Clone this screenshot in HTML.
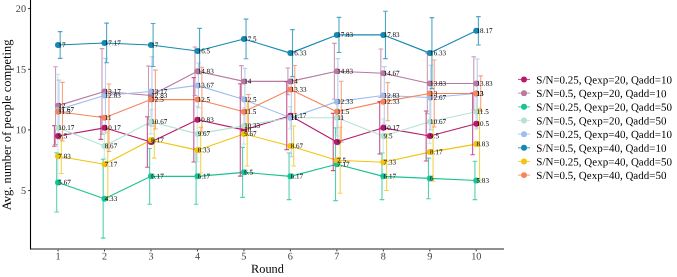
<!DOCTYPE html>
<html><head><meta charset="utf-8"><style>
html,body{margin:0;padding:0;background:#fff;width:677px;height:277px;overflow:hidden;}
body{position:relative;font-family:"Liberation Serif",serif;}
</style></head><body>
<svg width="677" height="277" viewBox="0 0 677 277" style="position:absolute;left:0;top:0;will-change:transform">
<polyline points="58.03,135.97 104.50,127.84 150.97,142.03 197.44,119.83 243.91,129.90 290.38,115.71 336.85,142.03 383.32,127.84 429.79,135.97 476.26,123.84" fill="none" stroke="#B81B6C" stroke-width="1.1" stroke-linejoin="round"/>
<polyline points="58.03,105.64 104.50,91.45 150.97,95.57 197.44,71.31 243.91,81.38 290.38,81.38 336.85,71.31 383.32,73.25 429.79,83.44 476.26,83.44" fill="none" stroke="#B8799F" stroke-width="1.1" stroke-linejoin="round"/>
<polyline points="58.03,182.42 104.50,198.68 150.97,176.36 197.44,176.36 243.91,172.36 290.38,176.36 336.85,164.23 383.32,176.36 429.79,178.42 476.26,180.48" fill="none" stroke="#19C394" stroke-width="1.1" stroke-linejoin="round"/>
<polyline points="58.03,127.84 104.50,146.03 150.97,121.77 197.44,133.90 243.91,125.90 290.38,117.77 336.85,117.77 383.32,135.97 429.79,121.77 476.26,111.70" fill="none" stroke="#B5E3D3" stroke-width="1.1" stroke-linejoin="round"/>
<polyline points="58.03,109.64 104.50,95.57 150.97,91.45 197.44,85.38 243.91,99.58 290.38,117.77 336.85,101.64 383.32,95.57 429.79,97.51 476.26,93.51" fill="none" stroke="#A0BDEE" stroke-width="1.1" stroke-linejoin="round"/>
<polyline points="58.03,44.99 104.50,42.93 150.97,44.99 197.44,51.06 243.91,38.93 290.38,53.12 336.85,34.92 383.32,34.92 429.79,53.12 476.26,30.80" fill="none" stroke="#1489B3" stroke-width="1.1" stroke-linejoin="round"/>
<polyline points="58.03,156.22 104.50,164.23 150.97,139.97 197.44,150.16 243.91,133.90 290.38,146.03 336.85,160.22 383.32,162.29 429.79,152.10 476.26,144.09" fill="none" stroke="#F2C40F" stroke-width="1.1" stroke-linejoin="round"/>
<polyline points="58.03,111.70 104.50,117.77 150.97,99.58 197.44,99.58 243.91,111.70 290.38,89.51 336.85,111.70 383.32,101.64 429.79,93.51 476.26,93.51" fill="none" stroke="#F7855A" stroke-width="1.1" stroke-linejoin="round"/>
<path d="M52.11,125.65H56.71M54.41,125.65V146.28M52.11,146.28H56.71" stroke="#B81B6C" stroke-opacity="0.75" stroke-width="1.1" fill="none"/>
<path d="M98.58,116.31H103.18M100.88,116.31V139.36M98.58,139.36H103.18" stroke="#B81B6C" stroke-opacity="0.75" stroke-width="1.1" fill="none"/>
<path d="M145.05,116.80H149.65M147.35,116.80V167.26M145.05,167.26H149.65" stroke="#B81B6C" stroke-opacity="0.75" stroke-width="1.1" fill="none"/>
<path d="M191.52,77.62H196.12M193.82,77.62V162.04M191.52,162.04H196.12" stroke="#B81B6C" stroke-opacity="0.75" stroke-width="1.1" fill="none"/>
<path d="M237.99,83.68H242.59M240.29,83.68V176.12M237.99,176.12H242.59" stroke="#B81B6C" stroke-opacity="0.75" stroke-width="1.1" fill="none"/>
<path d="M284.46,81.74H289.06M286.76,81.74V149.67M284.46,149.67H289.06" stroke="#B81B6C" stroke-opacity="0.75" stroke-width="1.1" fill="none"/>
<path d="M330.93,113.40H335.53M333.23,113.40V170.66M330.93,170.66H335.53" stroke="#B81B6C" stroke-opacity="0.75" stroke-width="1.1" fill="none"/>
<path d="M377.40,101.64H382.00M379.70,101.64V154.04M377.40,154.04H382.00" stroke="#B81B6C" stroke-opacity="0.75" stroke-width="1.1" fill="none"/>
<path d="M423.87,110.98H428.47M426.17,110.98V160.95M423.87,160.95H428.47" stroke="#B81B6C" stroke-opacity="0.75" stroke-width="1.1" fill="none"/>
<path d="M470.34,92.90H474.94M472.64,92.90V154.77M470.34,154.77H474.94" stroke="#B81B6C" stroke-opacity="0.75" stroke-width="1.1" fill="none"/>
<path d="M53.26,66.70H57.86M55.56,66.70V144.58M53.26,144.58H57.86" stroke="#B8799F" stroke-opacity="0.75" stroke-width="1.1" fill="none"/>
<path d="M99.73,48.63H104.33M102.03,48.63V134.27M99.73,134.27H104.33" stroke="#B8799F" stroke-opacity="0.75" stroke-width="1.1" fill="none"/>
<path d="M146.20,66.10H150.80M148.50,66.10V125.05M146.20,125.05H150.80" stroke="#B8799F" stroke-opacity="0.75" stroke-width="1.1" fill="none"/>
<path d="M192.67,47.05H197.27M194.97,47.05V95.57M192.67,95.57H197.27" stroke="#B8799F" stroke-opacity="0.75" stroke-width="1.1" fill="none"/>
<path d="M239.14,65.61H243.74M241.44,65.61V97.15M239.14,97.15H243.74" stroke="#B8799F" stroke-opacity="0.75" stroke-width="1.1" fill="none"/>
<path d="M285.61,68.04H290.21M287.91,68.04V94.72M285.61,94.72H290.21" stroke="#B8799F" stroke-opacity="0.75" stroke-width="1.1" fill="none"/>
<path d="M332.08,43.41H336.68M334.38,43.41V99.21M332.08,99.21H336.68" stroke="#B8799F" stroke-opacity="0.75" stroke-width="1.1" fill="none"/>
<path d="M378.55,48.99H383.15M380.85,48.99V97.51M378.55,97.51H383.15" stroke="#B8799F" stroke-opacity="0.75" stroke-width="1.1" fill="none"/>
<path d="M425.02,53.12H429.62M427.32,53.12V113.77M425.02,113.77H429.62" stroke="#B8799F" stroke-opacity="0.75" stroke-width="1.1" fill="none"/>
<path d="M471.49,56.76H476.09M473.79,56.76V110.13M471.49,110.13H476.09" stroke="#B8799F" stroke-opacity="0.75" stroke-width="1.1" fill="none"/>
<path d="M54.41,152.83H59.01M56.71,152.83V212.02M54.41,212.02H59.01" stroke="#19C394" stroke-opacity="0.75" stroke-width="1.1" fill="none"/>
<path d="M100.88,159.25H105.48M103.18,159.25V238.10M100.88,238.10H105.48" stroke="#19C394" stroke-opacity="0.75" stroke-width="1.1" fill="none"/>
<path d="M147.35,148.46H151.95M149.65,148.46V204.26M147.35,204.26H151.95" stroke="#19C394" stroke-opacity="0.75" stroke-width="1.1" fill="none"/>
<path d="M193.82,148.46H198.42M196.12,148.46V204.26M193.82,204.26H198.42" stroke="#19C394" stroke-opacity="0.75" stroke-width="1.1" fill="none"/>
<path d="M240.29,147.37H244.89M242.59,147.37V197.34M240.29,197.34H244.89" stroke="#19C394" stroke-opacity="0.75" stroke-width="1.1" fill="none"/>
<path d="M286.76,153.07H291.36M289.06,153.07V199.65M286.76,199.65H291.36" stroke="#19C394" stroke-opacity="0.75" stroke-width="1.1" fill="none"/>
<path d="M333.23,127.84H337.83M335.53,127.84V200.62M333.23,200.62H337.83" stroke="#19C394" stroke-opacity="0.75" stroke-width="1.1" fill="none"/>
<path d="M379.70,153.07H384.30M382.00,153.07V199.65M379.70,199.65H384.30" stroke="#19C394" stroke-opacity="0.75" stroke-width="1.1" fill="none"/>
<path d="M426.17,158.16H430.77M428.47,158.16V198.68M426.17,198.68H430.77" stroke="#19C394" stroke-opacity="0.75" stroke-width="1.1" fill="none"/>
<path d="M472.64,161.32H477.24M474.94,161.32V199.65M472.64,199.65H477.24" stroke="#19C394" stroke-opacity="0.75" stroke-width="1.1" fill="none"/>
<path d="M55.56,74.34H60.16M57.86,74.34V181.33M55.56,181.33H60.16" stroke="#B5E3D3" stroke-opacity="0.75" stroke-width="1.1" fill="none"/>
<path d="M102.03,133.90H106.63M104.33,133.90V158.16M102.03,158.16H106.63" stroke="#B5E3D3" stroke-opacity="0.75" stroke-width="1.1" fill="none"/>
<path d="M148.50,109.64H153.10M150.80,109.64V133.90M148.50,133.90H153.10" stroke="#B5E3D3" stroke-opacity="0.75" stroke-width="1.1" fill="none"/>
<path d="M194.97,106.00H199.57M197.27,106.00V161.80M194.97,161.80H199.57" stroke="#B5E3D3" stroke-opacity="0.75" stroke-width="1.1" fill="none"/>
<path d="M241.44,107.70H246.04M243.74,107.70V144.09M241.44,144.09H246.04" stroke="#B5E3D3" stroke-opacity="0.75" stroke-width="1.1" fill="none"/>
<path d="M287.91,106.61H292.51M290.21,106.61V128.93M287.91,128.93H292.51" stroke="#B5E3D3" stroke-opacity="0.75" stroke-width="1.1" fill="none"/>
<path d="M334.38,99.58H338.98M336.68,99.58V135.97M334.38,135.97H338.98" stroke="#B5E3D3" stroke-opacity="0.75" stroke-width="1.1" fill="none"/>
<path d="M380.85,118.98H385.45M383.15,118.98V152.95M380.85,152.95H385.45" stroke="#B5E3D3" stroke-opacity="0.75" stroke-width="1.1" fill="none"/>
<path d="M427.32,100.30H431.92M429.62,100.30V143.24M427.32,143.24H431.92" stroke="#B5E3D3" stroke-opacity="0.75" stroke-width="1.1" fill="none"/>
<path d="M473.79,94.12H478.39M476.09,94.12V129.29M473.79,129.29H478.39" stroke="#B5E3D3" stroke-opacity="0.75" stroke-width="1.1" fill="none"/>
<path d="M56.71,80.17H61.31M59.01,80.17V139.12M56.71,139.12H61.31" stroke="#A0BDEE" stroke-opacity="0.75" stroke-width="1.1" fill="none"/>
<path d="M103.18,58.33H107.78M105.48,58.33V132.81M103.18,132.81H107.78" stroke="#A0BDEE" stroke-opacity="0.75" stroke-width="1.1" fill="none"/>
<path d="M149.65,56.76H154.25M151.95,56.76V126.14M149.65,126.14H154.25" stroke="#A0BDEE" stroke-opacity="0.75" stroke-width="1.1" fill="none"/>
<path d="M196.12,62.94H200.72M198.42,62.94V107.82M196.12,107.82H200.72" stroke="#A0BDEE" stroke-opacity="0.75" stroke-width="1.1" fill="none"/>
<path d="M242.59,68.40H247.19M244.89,68.40V130.75M242.59,130.75H247.19" stroke="#A0BDEE" stroke-opacity="0.75" stroke-width="1.1" fill="none"/>
<path d="M289.06,78.95H293.66M291.36,78.95V156.59M289.06,156.59H293.66" stroke="#A0BDEE" stroke-opacity="0.75" stroke-width="1.1" fill="none"/>
<path d="M335.53,58.58H340.13M337.83,58.58V144.70M335.53,144.70H340.13" stroke="#A0BDEE" stroke-opacity="0.75" stroke-width="1.1" fill="none"/>
<path d="M382.00,66.58H386.60M384.30,66.58V124.56M382.00,124.56H386.60" stroke="#A0BDEE" stroke-opacity="0.75" stroke-width="1.1" fill="none"/>
<path d="M428.47,65.25H433.07M430.77,65.25V129.78M428.47,129.78H433.07" stroke="#A0BDEE" stroke-opacity="0.75" stroke-width="1.1" fill="none"/>
<path d="M474.94,59.06H479.54M477.24,59.06V127.96M474.94,127.96H479.54" stroke="#A0BDEE" stroke-opacity="0.75" stroke-width="1.1" fill="none"/>
<path d="M57.86,31.65H62.46M60.16,31.65V58.33M57.86,58.33H62.46" stroke="#1489B3" stroke-opacity="0.75" stroke-width="1.1" fill="none"/>
<path d="M104.33,23.16H108.93M106.63,23.16V62.70M104.33,62.70H108.93" stroke="#1489B3" stroke-opacity="0.75" stroke-width="1.1" fill="none"/>
<path d="M150.80,23.52H155.40M153.10,23.52V66.46M150.80,66.46H155.40" stroke="#1489B3" stroke-opacity="0.75" stroke-width="1.1" fill="none"/>
<path d="M197.27,28.37H201.87M199.57,28.37V73.74M197.27,73.74H201.87" stroke="#1489B3" stroke-opacity="0.75" stroke-width="1.1" fill="none"/>
<path d="M243.74,19.15H248.34M246.04,19.15V58.70M243.74,58.70H248.34" stroke="#1489B3" stroke-opacity="0.75" stroke-width="1.1" fill="none"/>
<path d="M290.21,29.58H294.81M292.51,29.58V76.65M290.21,76.65H294.81" stroke="#1489B3" stroke-opacity="0.75" stroke-width="1.1" fill="none"/>
<path d="M336.68,17.33H341.28M338.98,17.33V52.51M336.68,52.51H341.28" stroke="#1489B3" stroke-opacity="0.75" stroke-width="1.1" fill="none"/>
<path d="M383.15,11.27H387.75M385.45,11.27V58.58M383.15,58.58H387.75" stroke="#1489B3" stroke-opacity="0.75" stroke-width="1.1" fill="none"/>
<path d="M429.62,17.58H434.22M431.92,17.58V88.66M429.62,88.66H434.22" stroke="#1489B3" stroke-opacity="0.75" stroke-width="1.1" fill="none"/>
<path d="M476.09,16.61H480.69M478.39,16.61V44.99M476.09,44.99H480.69" stroke="#1489B3" stroke-opacity="0.75" stroke-width="1.1" fill="none"/>
<path d="M59.01,138.88H63.61M61.31,138.88V173.57M59.01,173.57H63.61" stroke="#F2C40F" stroke-opacity="0.75" stroke-width="1.1" fill="none"/>
<path d="M105.48,130.75H110.08M107.78,130.75V197.71M105.48,197.71H110.08" stroke="#F2C40F" stroke-opacity="0.75" stroke-width="1.1" fill="none"/>
<path d="M151.95,121.77H156.55M154.25,121.77V158.16M151.95,158.16H156.55" stroke="#F2C40F" stroke-opacity="0.75" stroke-width="1.1" fill="none"/>
<path d="M198.42,127.35H203.02M200.72,127.35V172.96M198.42,172.96H203.02" stroke="#F2C40F" stroke-opacity="0.75" stroke-width="1.1" fill="none"/>
<path d="M244.89,101.76H249.49M247.19,101.76V166.05M244.89,166.05H249.49" stroke="#F2C40F" stroke-opacity="0.75" stroke-width="1.1" fill="none"/>
<path d="M291.36,126.02H295.96M293.66,126.02V166.05M291.36,166.05H295.96" stroke="#F2C40F" stroke-opacity="0.75" stroke-width="1.1" fill="none"/>
<path d="M337.83,127.23H342.43M340.13,127.23V193.22M337.83,193.22H342.43" stroke="#F2C40F" stroke-opacity="0.75" stroke-width="1.1" fill="none"/>
<path d="M384.30,134.15H388.90M386.60,134.15V190.43M384.30,190.43H388.90" stroke="#F2C40F" stroke-opacity="0.75" stroke-width="1.1" fill="none"/>
<path d="M430.77,123.11H435.37M433.07,123.11V181.09M430.77,181.09H435.37" stroke="#F2C40F" stroke-opacity="0.75" stroke-width="1.1" fill="none"/>
<path d="M477.24,108.31H481.84M479.54,108.31V179.88M477.24,179.88H481.84" stroke="#F2C40F" stroke-opacity="0.75" stroke-width="1.1" fill="none"/>
<path d="M60.16,82.35H64.76M62.46,82.35V141.06M60.16,141.06H64.76" stroke="#F7855A" stroke-opacity="0.75" stroke-width="1.1" fill="none"/>
<path d="M106.63,84.05H111.23M108.93,84.05V151.49M106.63,151.49H111.23" stroke="#F7855A" stroke-opacity="0.75" stroke-width="1.1" fill="none"/>
<path d="M153.10,70.10H157.70M155.40,70.10V129.05M153.10,129.05H157.70" stroke="#F7855A" stroke-opacity="0.75" stroke-width="1.1" fill="none"/>
<path d="M199.57,67.31H204.17M201.87,67.31V131.84M199.57,131.84H204.17" stroke="#F7855A" stroke-opacity="0.75" stroke-width="1.1" fill="none"/>
<path d="M246.04,94.48H250.64M248.34,94.48V128.93M246.04,128.93H250.64" stroke="#F7855A" stroke-opacity="0.75" stroke-width="1.1" fill="none"/>
<path d="M292.51,65.49H297.11M294.81,65.49V113.52M292.51,113.52H297.11" stroke="#F7855A" stroke-opacity="0.75" stroke-width="1.1" fill="none"/>
<path d="M338.98,81.26H343.58M341.28,81.26V142.15M338.98,142.15H343.58" stroke="#F7855A" stroke-opacity="0.75" stroke-width="1.1" fill="none"/>
<path d="M385.45,82.59H390.05M387.75,82.59V120.68M385.45,120.68H390.05" stroke="#F7855A" stroke-opacity="0.75" stroke-width="1.1" fill="none"/>
<path d="M431.92,60.03H436.52M434.22,60.03V126.99M431.92,126.99H436.52" stroke="#F7855A" stroke-opacity="0.75" stroke-width="1.1" fill="none"/>
<path d="M478.39,75.92H482.99M480.69,75.92V111.10M478.39,111.10H482.99" stroke="#F7855A" stroke-opacity="0.75" stroke-width="1.1" fill="none"/>
<circle cx="58.03" cy="135.97" r="3" fill="#B81B6C"/>
<circle cx="104.50" cy="127.84" r="3" fill="#B81B6C"/>
<circle cx="150.97" cy="142.03" r="3" fill="#B81B6C"/>
<circle cx="197.44" cy="119.83" r="3" fill="#B81B6C"/>
<circle cx="243.91" cy="129.90" r="3" fill="#B81B6C"/>
<circle cx="290.38" cy="115.71" r="3" fill="#B81B6C"/>
<circle cx="336.85" cy="142.03" r="3" fill="#B81B6C"/>
<circle cx="383.32" cy="127.84" r="3" fill="#B81B6C"/>
<circle cx="429.79" cy="135.97" r="3" fill="#B81B6C"/>
<circle cx="476.26" cy="123.84" r="3" fill="#B81B6C"/>
<circle cx="58.03" cy="105.64" r="3" fill="#B8799F"/>
<circle cx="104.50" cy="91.45" r="3" fill="#B8799F"/>
<circle cx="150.97" cy="95.57" r="3" fill="#B8799F"/>
<circle cx="197.44" cy="71.31" r="3" fill="#B8799F"/>
<circle cx="243.91" cy="81.38" r="3" fill="#B8799F"/>
<circle cx="290.38" cy="81.38" r="3" fill="#B8799F"/>
<circle cx="336.85" cy="71.31" r="3" fill="#B8799F"/>
<circle cx="383.32" cy="73.25" r="3" fill="#B8799F"/>
<circle cx="429.79" cy="83.44" r="3" fill="#B8799F"/>
<circle cx="476.26" cy="83.44" r="3" fill="#B8799F"/>
<circle cx="58.03" cy="182.42" r="3" fill="#19C394"/>
<circle cx="104.50" cy="198.68" r="3" fill="#19C394"/>
<circle cx="150.97" cy="176.36" r="3" fill="#19C394"/>
<circle cx="197.44" cy="176.36" r="3" fill="#19C394"/>
<circle cx="243.91" cy="172.36" r="3" fill="#19C394"/>
<circle cx="290.38" cy="176.36" r="3" fill="#19C394"/>
<circle cx="336.85" cy="164.23" r="3" fill="#19C394"/>
<circle cx="383.32" cy="176.36" r="3" fill="#19C394"/>
<circle cx="429.79" cy="178.42" r="3" fill="#19C394"/>
<circle cx="476.26" cy="180.48" r="3" fill="#19C394"/>
<circle cx="58.03" cy="127.84" r="3" fill="#B5E3D3"/>
<circle cx="104.50" cy="146.03" r="3" fill="#B5E3D3"/>
<circle cx="150.97" cy="121.77" r="3" fill="#B5E3D3"/>
<circle cx="197.44" cy="133.90" r="3" fill="#B5E3D3"/>
<circle cx="243.91" cy="125.90" r="3" fill="#B5E3D3"/>
<circle cx="290.38" cy="117.77" r="3" fill="#B5E3D3"/>
<circle cx="336.85" cy="117.77" r="3" fill="#B5E3D3"/>
<circle cx="383.32" cy="135.97" r="3" fill="#B5E3D3"/>
<circle cx="429.79" cy="121.77" r="3" fill="#B5E3D3"/>
<circle cx="476.26" cy="111.70" r="3" fill="#B5E3D3"/>
<circle cx="58.03" cy="109.64" r="3" fill="#A0BDEE"/>
<circle cx="104.50" cy="95.57" r="3" fill="#A0BDEE"/>
<circle cx="150.97" cy="91.45" r="3" fill="#A0BDEE"/>
<circle cx="197.44" cy="85.38" r="3" fill="#A0BDEE"/>
<circle cx="243.91" cy="99.58" r="3" fill="#A0BDEE"/>
<circle cx="290.38" cy="117.77" r="3" fill="#A0BDEE"/>
<circle cx="336.85" cy="101.64" r="3" fill="#A0BDEE"/>
<circle cx="383.32" cy="95.57" r="3" fill="#A0BDEE"/>
<circle cx="429.79" cy="97.51" r="3" fill="#A0BDEE"/>
<circle cx="476.26" cy="93.51" r="3" fill="#A0BDEE"/>
<circle cx="58.03" cy="44.99" r="3" fill="#1489B3"/>
<circle cx="104.50" cy="42.93" r="3" fill="#1489B3"/>
<circle cx="150.97" cy="44.99" r="3" fill="#1489B3"/>
<circle cx="197.44" cy="51.06" r="3" fill="#1489B3"/>
<circle cx="243.91" cy="38.93" r="3" fill="#1489B3"/>
<circle cx="290.38" cy="53.12" r="3" fill="#1489B3"/>
<circle cx="336.85" cy="34.92" r="3" fill="#1489B3"/>
<circle cx="383.32" cy="34.92" r="3" fill="#1489B3"/>
<circle cx="429.79" cy="53.12" r="3" fill="#1489B3"/>
<circle cx="476.26" cy="30.80" r="3" fill="#1489B3"/>
<circle cx="58.03" cy="156.22" r="3" fill="#F2C40F"/>
<circle cx="104.50" cy="164.23" r="3" fill="#F2C40F"/>
<circle cx="150.97" cy="139.97" r="3" fill="#F2C40F"/>
<circle cx="197.44" cy="150.16" r="3" fill="#F2C40F"/>
<circle cx="243.91" cy="133.90" r="3" fill="#F2C40F"/>
<circle cx="290.38" cy="146.03" r="3" fill="#F2C40F"/>
<circle cx="336.85" cy="160.22" r="3" fill="#F2C40F"/>
<circle cx="383.32" cy="162.29" r="3" fill="#F2C40F"/>
<circle cx="429.79" cy="152.10" r="3" fill="#F2C40F"/>
<circle cx="476.26" cy="144.09" r="3" fill="#F2C40F"/>
<circle cx="58.03" cy="111.70" r="3" fill="#F7855A"/>
<circle cx="104.50" cy="117.77" r="3" fill="#F7855A"/>
<circle cx="150.97" cy="99.58" r="3" fill="#F7855A"/>
<circle cx="197.44" cy="99.58" r="3" fill="#F7855A"/>
<circle cx="243.91" cy="111.70" r="3" fill="#F7855A"/>
<circle cx="290.38" cy="89.51" r="3" fill="#F7855A"/>
<circle cx="336.85" cy="111.70" r="3" fill="#F7855A"/>
<circle cx="383.32" cy="101.64" r="3" fill="#F7855A"/>
<circle cx="429.79" cy="93.51" r="3" fill="#F7855A"/>
<circle cx="476.26" cy="93.51" r="3" fill="#F7855A"/>
<g font-family="Liberation Serif" font-size="7.1" fill="#000">
<text x="58.33" y="138.16" transform="rotate(0.04 58.33 138.16)">9.5</text>
<text x="104.80" y="130.04" transform="rotate(0.04 104.80 130.04)">10.17</text>
<text x="151.27" y="144.23" transform="rotate(0.04 151.27 144.23)">9</text>
<text x="197.74" y="122.03" transform="rotate(0.04 197.74 122.03)">10.83</text>
<text x="244.21" y="132.10" transform="rotate(0.04 244.21 132.10)">10</text>
<text x="290.68" y="117.91" transform="rotate(0.04 290.68 117.91)">11.17</text>
<text x="337.15" y="144.23" transform="rotate(0.04 337.15 144.23)">9</text>
<text x="383.62" y="130.04" transform="rotate(0.04 383.62 130.04)">10.17</text>
<text x="430.09" y="138.16" transform="rotate(0.04 430.09 138.16)">9.5</text>
<text x="476.56" y="126.04" transform="rotate(0.04 476.56 126.04)">10.5</text>
<text x="58.33" y="107.84" transform="rotate(0.04 58.33 107.84)">12</text>
<text x="104.80" y="93.65" transform="rotate(0.04 104.80 93.65)">13.17</text>
<text x="151.27" y="97.77" transform="rotate(0.04 151.27 97.77)">12.83</text>
<text x="197.74" y="73.51" transform="rotate(0.04 197.74 73.51)">14.83</text>
<text x="244.21" y="83.58" transform="rotate(0.04 244.21 83.58)">14</text>
<text x="290.68" y="83.58" transform="rotate(0.04 290.68 83.58)">14</text>
<text x="337.15" y="73.51" transform="rotate(0.04 337.15 73.51)">14.83</text>
<text x="383.62" y="75.45" transform="rotate(0.04 383.62 75.45)">14.67</text>
<text x="430.09" y="85.64" transform="rotate(0.04 430.09 85.64)">13.83</text>
<text x="476.56" y="85.64" transform="rotate(0.04 476.56 85.64)">13.83</text>
<text x="58.33" y="184.62" transform="rotate(0.04 58.33 184.62)">5.67</text>
<text x="104.80" y="200.88" transform="rotate(0.04 104.80 200.88)">4.33</text>
<text x="151.27" y="178.56" transform="rotate(0.04 151.27 178.56)">6.17</text>
<text x="197.74" y="178.56" transform="rotate(0.04 197.74 178.56)">6.17</text>
<text x="244.21" y="174.56" transform="rotate(0.04 244.21 174.56)">6.5</text>
<text x="290.68" y="178.56" transform="rotate(0.04 290.68 178.56)">6.17</text>
<text x="337.15" y="166.43" transform="rotate(0.04 337.15 166.43)">7.17</text>
<text x="383.62" y="178.56" transform="rotate(0.04 383.62 178.56)">6.17</text>
<text x="430.09" y="180.62" transform="rotate(0.04 430.09 180.62)">6</text>
<text x="476.56" y="182.68" transform="rotate(0.04 476.56 182.68)">5.83</text>
<text x="58.33" y="130.04" transform="rotate(0.04 58.33 130.04)">10.17</text>
<text x="104.80" y="148.23" transform="rotate(0.04 104.80 148.23)">8.67</text>
<text x="151.27" y="123.97" transform="rotate(0.04 151.27 123.97)">10.67</text>
<text x="197.74" y="136.10" transform="rotate(0.04 197.74 136.10)">9.67</text>
<text x="244.21" y="128.10" transform="rotate(0.04 244.21 128.10)">10.33</text>
<text x="290.68" y="119.97" transform="rotate(0.04 290.68 119.97)">11</text>
<text x="337.15" y="119.97" transform="rotate(0.04 337.15 119.97)">11</text>
<text x="383.62" y="138.16" transform="rotate(0.04 383.62 138.16)">9.5</text>
<text x="430.09" y="123.97" transform="rotate(0.04 430.09 123.97)">10.67</text>
<text x="476.56" y="113.91" transform="rotate(0.04 476.56 113.91)">11.5</text>
<text x="58.33" y="111.84" transform="rotate(0.04 58.33 111.84)">11.67</text>
<text x="104.80" y="97.77" transform="rotate(0.04 104.80 97.77)">12.83</text>
<text x="151.27" y="93.65" transform="rotate(0.04 151.27 93.65)">13.17</text>
<text x="197.74" y="87.58" transform="rotate(0.04 197.74 87.58)">13.67</text>
<text x="244.21" y="101.78" transform="rotate(0.04 244.21 101.78)">12.5</text>
<text x="290.68" y="119.97" transform="rotate(0.04 290.68 119.97)">11</text>
<text x="337.15" y="103.84" transform="rotate(0.04 337.15 103.84)">12.33</text>
<text x="383.62" y="97.77" transform="rotate(0.04 383.62 97.77)">12.83</text>
<text x="430.09" y="99.71" transform="rotate(0.04 430.09 99.71)">12.67</text>
<text x="476.56" y="95.71" transform="rotate(0.04 476.56 95.71)">13</text>
<text x="58.33" y="47.19" transform="rotate(0.04 58.33 47.19)">17</text>
<text x="104.80" y="45.13" transform="rotate(0.04 104.80 45.13)">17.17</text>
<text x="151.27" y="47.19" transform="rotate(0.04 151.27 47.19)">17</text>
<text x="197.74" y="53.26" transform="rotate(0.04 197.74 53.26)">16.5</text>
<text x="244.21" y="41.13" transform="rotate(0.04 244.21 41.13)">17.5</text>
<text x="290.68" y="55.32" transform="rotate(0.04 290.68 55.32)">16.33</text>
<text x="337.15" y="37.12" transform="rotate(0.04 337.15 37.12)">17.83</text>
<text x="383.62" y="37.12" transform="rotate(0.04 383.62 37.12)">17.83</text>
<text x="430.09" y="55.32" transform="rotate(0.04 430.09 55.32)">16.33</text>
<text x="476.56" y="33.00" transform="rotate(0.04 476.56 33.00)">18.17</text>
<text x="58.33" y="158.42" transform="rotate(0.04 58.33 158.42)">7.83</text>
<text x="104.80" y="166.43" transform="rotate(0.04 104.80 166.43)">7.17</text>
<text x="151.27" y="142.17" transform="rotate(0.04 151.27 142.17)">9.17</text>
<text x="197.74" y="152.36" transform="rotate(0.04 197.74 152.36)">8.33</text>
<text x="244.21" y="136.10" transform="rotate(0.04 244.21 136.10)">9.67</text>
<text x="290.68" y="148.23" transform="rotate(0.04 290.68 148.23)">8.67</text>
<text x="337.15" y="162.42" transform="rotate(0.04 337.15 162.42)">7.5</text>
<text x="383.62" y="164.49" transform="rotate(0.04 383.62 164.49)">7.33</text>
<text x="430.09" y="154.30" transform="rotate(0.04 430.09 154.30)">8.17</text>
<text x="476.56" y="146.29" transform="rotate(0.04 476.56 146.29)">8.83</text>
<text x="58.33" y="113.91" transform="rotate(0.04 58.33 113.91)">11.5</text>
<text x="104.80" y="119.97" transform="rotate(0.04 104.80 119.97)">11</text>
<text x="151.27" y="101.78" transform="rotate(0.04 151.27 101.78)">12.5</text>
<text x="197.74" y="101.78" transform="rotate(0.04 197.74 101.78)">12.5</text>
<text x="244.21" y="113.91" transform="rotate(0.04 244.21 113.91)">11.5</text>
<text x="290.68" y="91.71" transform="rotate(0.04 290.68 91.71)">13.33</text>
<text x="337.15" y="113.91" transform="rotate(0.04 337.15 113.91)">11.5</text>
<text x="383.62" y="103.84" transform="rotate(0.04 383.62 103.84)">12.33</text>
<text x="430.09" y="95.71" transform="rotate(0.04 430.09 95.71)">13</text>
<text x="476.56" y="95.71" transform="rotate(0.04 476.56 95.71)">13</text>
</g>
<line x1="30.5" y1="0" x2="30.5" y2="249.3" stroke="#000" stroke-width="1.1"/>
<line x1="30" y1="249" x2="504" y2="249" stroke="#222" stroke-width="1.2"/>
<line x1="28.1" y1="190.55" x2="30" y2="190.55" stroke="#333" stroke-width="1"/>
<text x="26" y="194.00" transform="rotate(0.04 26 194.00)" font-family="Liberation Serif" font-size="10.2" fill="#444" text-anchor="end">5</text>
<line x1="28.1" y1="129.90" x2="30" y2="129.90" stroke="#333" stroke-width="1"/>
<text x="26" y="133.35" transform="rotate(0.04 26 133.35)" font-family="Liberation Serif" font-size="10.2" fill="#444" text-anchor="end">10</text>
<line x1="28.1" y1="69.25" x2="30" y2="69.25" stroke="#333" stroke-width="1"/>
<text x="26" y="72.70" transform="rotate(0.04 26 72.70)" font-family="Liberation Serif" font-size="10.2" fill="#444" text-anchor="end">15</text>
<line x1="28.1" y1="8.60" x2="30" y2="8.60" stroke="#333" stroke-width="1"/>
<text x="26" y="12.05" transform="rotate(0.04 26 12.05)" font-family="Liberation Serif" font-size="10.2" fill="#444" text-anchor="end">20</text>
<line x1="58.03" y1="249.5" x2="58.03" y2="251.4" stroke="#333" stroke-width="1"/>
<text x="58.03" y="259.6" transform="rotate(0.04 58.03 259.6)" font-family="Liberation Serif" font-size="10.2" fill="#444" text-anchor="middle">1</text>
<line x1="104.50" y1="249.5" x2="104.50" y2="251.4" stroke="#333" stroke-width="1"/>
<text x="104.50" y="259.6" transform="rotate(0.04 104.50 259.6)" font-family="Liberation Serif" font-size="10.2" fill="#444" text-anchor="middle">2</text>
<line x1="150.97" y1="249.5" x2="150.97" y2="251.4" stroke="#333" stroke-width="1"/>
<text x="150.97" y="259.6" transform="rotate(0.04 150.97 259.6)" font-family="Liberation Serif" font-size="10.2" fill="#444" text-anchor="middle">3</text>
<line x1="197.44" y1="249.5" x2="197.44" y2="251.4" stroke="#333" stroke-width="1"/>
<text x="197.44" y="259.6" transform="rotate(0.04 197.44 259.6)" font-family="Liberation Serif" font-size="10.2" fill="#444" text-anchor="middle">4</text>
<line x1="243.91" y1="249.5" x2="243.91" y2="251.4" stroke="#333" stroke-width="1"/>
<text x="243.91" y="259.6" transform="rotate(0.04 243.91 259.6)" font-family="Liberation Serif" font-size="10.2" fill="#444" text-anchor="middle">5</text>
<line x1="290.38" y1="249.5" x2="290.38" y2="251.4" stroke="#333" stroke-width="1"/>
<text x="290.38" y="259.6" transform="rotate(0.04 290.38 259.6)" font-family="Liberation Serif" font-size="10.2" fill="#444" text-anchor="middle">6</text>
<line x1="336.85" y1="249.5" x2="336.85" y2="251.4" stroke="#333" stroke-width="1"/>
<text x="336.85" y="259.6" transform="rotate(0.04 336.85 259.6)" font-family="Liberation Serif" font-size="10.2" fill="#444" text-anchor="middle">7</text>
<line x1="383.32" y1="249.5" x2="383.32" y2="251.4" stroke="#333" stroke-width="1"/>
<text x="383.32" y="259.6" transform="rotate(0.04 383.32 259.6)" font-family="Liberation Serif" font-size="10.2" fill="#444" text-anchor="middle">8</text>
<line x1="429.79" y1="249.5" x2="429.79" y2="251.4" stroke="#333" stroke-width="1"/>
<text x="429.79" y="259.6" transform="rotate(0.04 429.79 259.6)" font-family="Liberation Serif" font-size="10.2" fill="#444" text-anchor="middle">9</text>
<line x1="476.26" y1="249.5" x2="476.26" y2="251.4" stroke="#333" stroke-width="1"/>
<text x="476.26" y="259.6" transform="rotate(0.04 476.26 259.6)" font-family="Liberation Serif" font-size="10.2" fill="#444" text-anchor="middle">10</text>
<text x="267.5" y="272.7" transform="rotate(0.04 267.5 272.7)" font-family="Liberation Serif" font-size="12.3" fill="#000" text-anchor="middle">Round</text>
<text transform="translate(10.8,124.9) rotate(-89.96)" x="0" y="0" font-family="Liberation Serif" font-size="12.5" fill="#000" text-anchor="middle">Avg. number of people competing</text>
<line x1="518" y1="79.50" x2="530" y2="79.50" stroke="#B81B6C" stroke-opacity="0.75" stroke-width="1.1"/>
<circle cx="524" cy="79.50" r="2.95" fill="#B81B6C"/>
<text x="536.3" y="83.40" transform="rotate(0.04 536.3 83.40)" font-family="Liberation Serif" font-size="11" fill="#000">S/N=0.25, Qexp=20, Qadd=10</text>
<line x1="518" y1="93.16" x2="530" y2="93.16" stroke="#B8799F" stroke-opacity="0.75" stroke-width="1.1"/>
<circle cx="524" cy="93.16" r="2.95" fill="#B8799F"/>
<text x="536.3" y="97.06" transform="rotate(0.04 536.3 97.06)" font-family="Liberation Serif" font-size="11" fill="#000">S/N=0.5, Qexp=20, Qadd=10</text>
<line x1="518" y1="106.82" x2="530" y2="106.82" stroke="#19C394" stroke-opacity="0.75" stroke-width="1.1"/>
<circle cx="524" cy="106.82" r="2.95" fill="#19C394"/>
<text x="536.3" y="110.72" transform="rotate(0.04 536.3 110.72)" font-family="Liberation Serif" font-size="11" fill="#000">S/N=0.25, Qexp=20, Qadd=50</text>
<line x1="518" y1="120.48" x2="530" y2="120.48" stroke="#B5E3D3" stroke-opacity="0.75" stroke-width="1.1"/>
<circle cx="524" cy="120.48" r="2.95" fill="#B5E3D3"/>
<text x="536.3" y="124.38" transform="rotate(0.04 536.3 124.38)" font-family="Liberation Serif" font-size="11" fill="#000">S/N=0.5, Qexp=20, Qadd=50</text>
<line x1="518" y1="134.14" x2="530" y2="134.14" stroke="#A0BDEE" stroke-opacity="0.75" stroke-width="1.1"/>
<circle cx="524" cy="134.14" r="2.95" fill="#A0BDEE"/>
<text x="536.3" y="138.04" transform="rotate(0.04 536.3 138.04)" font-family="Liberation Serif" font-size="11" fill="#000">S/N=0.25, Qexp=40, Qadd=10</text>
<line x1="518" y1="147.80" x2="530" y2="147.80" stroke="#1489B3" stroke-opacity="0.75" stroke-width="1.1"/>
<circle cx="524" cy="147.80" r="2.95" fill="#1489B3"/>
<text x="536.3" y="151.70" transform="rotate(0.04 536.3 151.70)" font-family="Liberation Serif" font-size="11" fill="#000">S/N=0.5, Qexp=40, Qadd=10</text>
<line x1="518" y1="161.46" x2="530" y2="161.46" stroke="#F2C40F" stroke-opacity="0.75" stroke-width="1.1"/>
<circle cx="524" cy="161.46" r="2.95" fill="#F2C40F"/>
<text x="536.3" y="165.36" transform="rotate(0.04 536.3 165.36)" font-family="Liberation Serif" font-size="11" fill="#000">S/N=0.25, Qexp=40, Qadd=50</text>
<line x1="518" y1="175.12" x2="530" y2="175.12" stroke="#F7855A" stroke-opacity="0.75" stroke-width="1.1"/>
<circle cx="524" cy="175.12" r="2.95" fill="#F7855A"/>
<text x="536.3" y="179.02" transform="rotate(0.04 536.3 179.02)" font-family="Liberation Serif" font-size="11" fill="#000">S/N=0.5, Qexp=40, Qadd=50</text>
</svg>
</body></html>
